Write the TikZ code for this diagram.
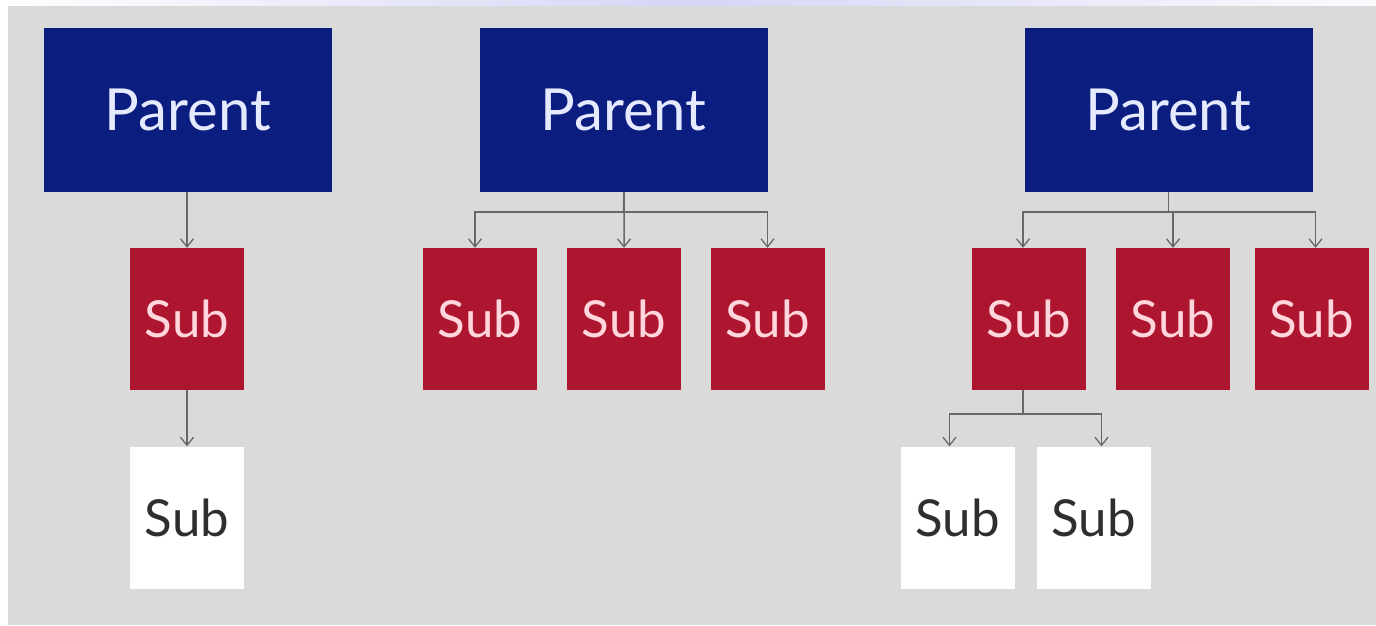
\documentclass[tikz,border=0pt]{standalone}
\usepackage{fontspec}
\setmainfont{Lato}
\usetikzlibrary{arrows.meta,calc}
\definecolor{bg}{HTML}{DADADA}
\definecolor{navy}{HTML}{0B1E80}
\definecolor{crim}{HTML}{AE1630}
\definecolor{navytxt}{HTML}{E6EAFF}
\definecolor{crimtxt}{HTML}{FFD6DC}
\definecolor{subtxt}{HTML}{2E2E2E}
\definecolor{conncol}{HTML}{686868}
\definecolor{lav}{HTML}{D6D6F6}
\begin{document}
\begin{tikzpicture}[x=1pt,y=-1pt,
  parentbox/.style={fill=navy,text=navytxt,minimum width=288pt,minimum height=164pt,inner sep=0pt,font=\fontsize{58}{64}\selectfont},
  redbox/.style={fill=crim,text=crimtxt,minimum width=114pt,minimum height=142pt,inner sep=0pt,font=\fontsize{51}{56}\selectfont},
  whitebox/.style={fill=white,text=subtxt,minimum width=114pt,minimum height=142pt,inner sep=0pt,font=\fontsize{51}{56}\selectfont},
  conn/.style={draw=conncol,line width=1.5pt,-{Straight Barb[length=8pt,width=13pt,line width=1.3pt]}}]
\useasboundingbox (0,0) rectangle (1376,625);
\fill[white] (0,0) rectangle (1376,625);
\shade[left color=white,right color=white!90!lav,middle color=lav] (0,0) rectangle (1376,6);
\fill[bg] (8,6) rectangle (1376,625);
% tree 1
\node[parentbox] (p1) at (188,110) {Parent};
\node[redbox] (s1) at (187,319) {Sub};
\node[whitebox] (w1) at (187,517.5) {Sub};
\draw[conn] (p1.south -| s1.north) -- (s1.north);
\draw[conn] (s1.south) -- (w1.north);
% tree 2
\node[parentbox] (p2) at (623.5,110) {Parent};
\node[redbox] (s21) at (480,319) {Sub};
\node[redbox] (s22) at (624,319) {Sub};
\node[redbox] (s23) at (767.5,319) {Sub};
\coordinate (bus2) at (0,212);
\coordinate (t21) at ($(s21.north)+(-5,0)$);
\draw[conn] (p2.south) -- (p2.south |- bus2) -| (t21);
\draw[conn] (p2.south |- bus2) -- (p2.south -| s22.north) -- (s22.north);
\draw[conn] (p2.south |- bus2) -| (s23.north);
% tree 3
\node[parentbox] (p3) at (1168.5,110) {Parent};
\node[redbox] (s31) at (1029,319) {Sub};
\node[redbox] (s32) at (1173,319) {Sub};
\node[redbox] (s33) at (1311.5,319) {Sub};
\node[whitebox] (w31) at (957.5,517.5) {Sub};
\node[whitebox] (w32) at (1093.5,517.5) {Sub};
\coordinate (bus3) at (0,212);
\coordinate (bus4) at (0,414);
\coordinate (t31) at ($(s31.north)+(-6,0)$);
\coordinate (t33) at ($(s33.north)+(4,0)$);
\coordinate (f31) at ($(s31.south)+(-6,0)$);
\coordinate (tw1) at ($(w31.north)+(-8,0)$);
\coordinate (tw2) at ($(w32.north)+(8,0)$);
\draw[conn] (p3.south) -- (p3.south |- bus3) -| (t31);
\draw[conn] (p3.south |- bus3) -| (s32.north);
\draw[conn] (p3.south |- bus3) -| (t33);
\draw[conn] (f31) -- (f31 |- bus4) -| (tw1);
\draw[conn] (f31 |- bus4) -| (tw2);
\end{tikzpicture}
\end{document}
